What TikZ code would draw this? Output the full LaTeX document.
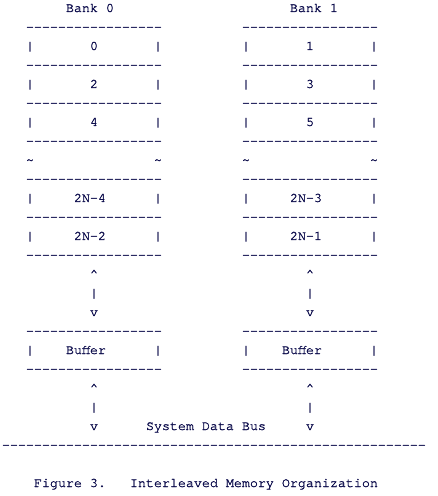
\documentclass[tikz,border=0pt]{standalone}
\usepackage{fontspec}
\usetikzlibrary{positioning}
\newfontfamily\asciifont{TeX Gyre Cursor}[FakeBold=1.5]
\definecolor{AsciiInk}{rgb}{0.05, 0.05, 0.30}
\newcommand{\boxrule}{-----------------}
\newcommand{\busrule}{-----------------------------------------------------}

\begin{document}
\begin{tikzpicture}[x=8pt, y=-19pt,
    ascii/.style={inner sep=0pt, outer sep=0pt, anchor=base west, text=AsciiInk,
                  font=\asciifont\fontsize{13.33}{19}\selectfont}]
        \useasboundingbox (-0.25,-0.6316) rectangle (54.5,25.474);

        % Bank headings
        \node [ascii] (bank0) at (8,0) {Bank 0};
        \node [ascii] (bank1) at (36,0) {Bank 1};

        % Both banks: rules, side bars, breaks and buffer links
        \foreach \x in {3,30} {
            \foreach \r in {1,3,5,7,9,11,13,17,19}
                \node [ascii] (rule-\x-\r) at (\x,\r) {\boxrule};
            \foreach \r in {2,4,6,10,12,18} {
                \node [ascii] (barL-\x-\r) at (\x,\r) {|};
                \node [ascii] (barR-\x-\r) at (\x+16,\r) {|};
            }
            \node [ascii] (gapL-\x) at (\x,8) {\textasciitilde};
            \node [ascii] (gapR-\x) at (\x+16,8) {\textasciitilde};
            \foreach \r in {14,20} {
                \node [ascii] (up-\x-\r) at (\x+8,\r) {\textasciicircum};
                \node [ascii] (mid-\x-\r) at (\x+8,\r+1) {|};
                \node [ascii] (down-\x-\r) at (\x+8,\r+2) {v};
            }
            \node [ascii] (buf-\x) at (\x+5,18) {Buffer};
        }

        % Words in the cells
        \foreach \lbl/\c/\r in {0/11/2, 2/11/4, 4/11/6, 2N-4/9/10, 2N-2/9/12,
                                1/38/2, 3/38/4, 5/38/6, 2N-3/36/10, 2N-1/36/12}
            \node [ascii] (word-\c-\r) at (\c,\r) {\lbl};

        % System bus
        \node [ascii] (busname) at (18,22) {System Data Bus};
        \node [ascii] (bus) at (0,23) {\busrule};

        % Caption
        \node [ascii] (fig) at (4,25) {Figure 3.};
        \node [ascii] (title) at (16,25) {Interleaved Memory Organization};
    \end{tikzpicture}
\end{document}
